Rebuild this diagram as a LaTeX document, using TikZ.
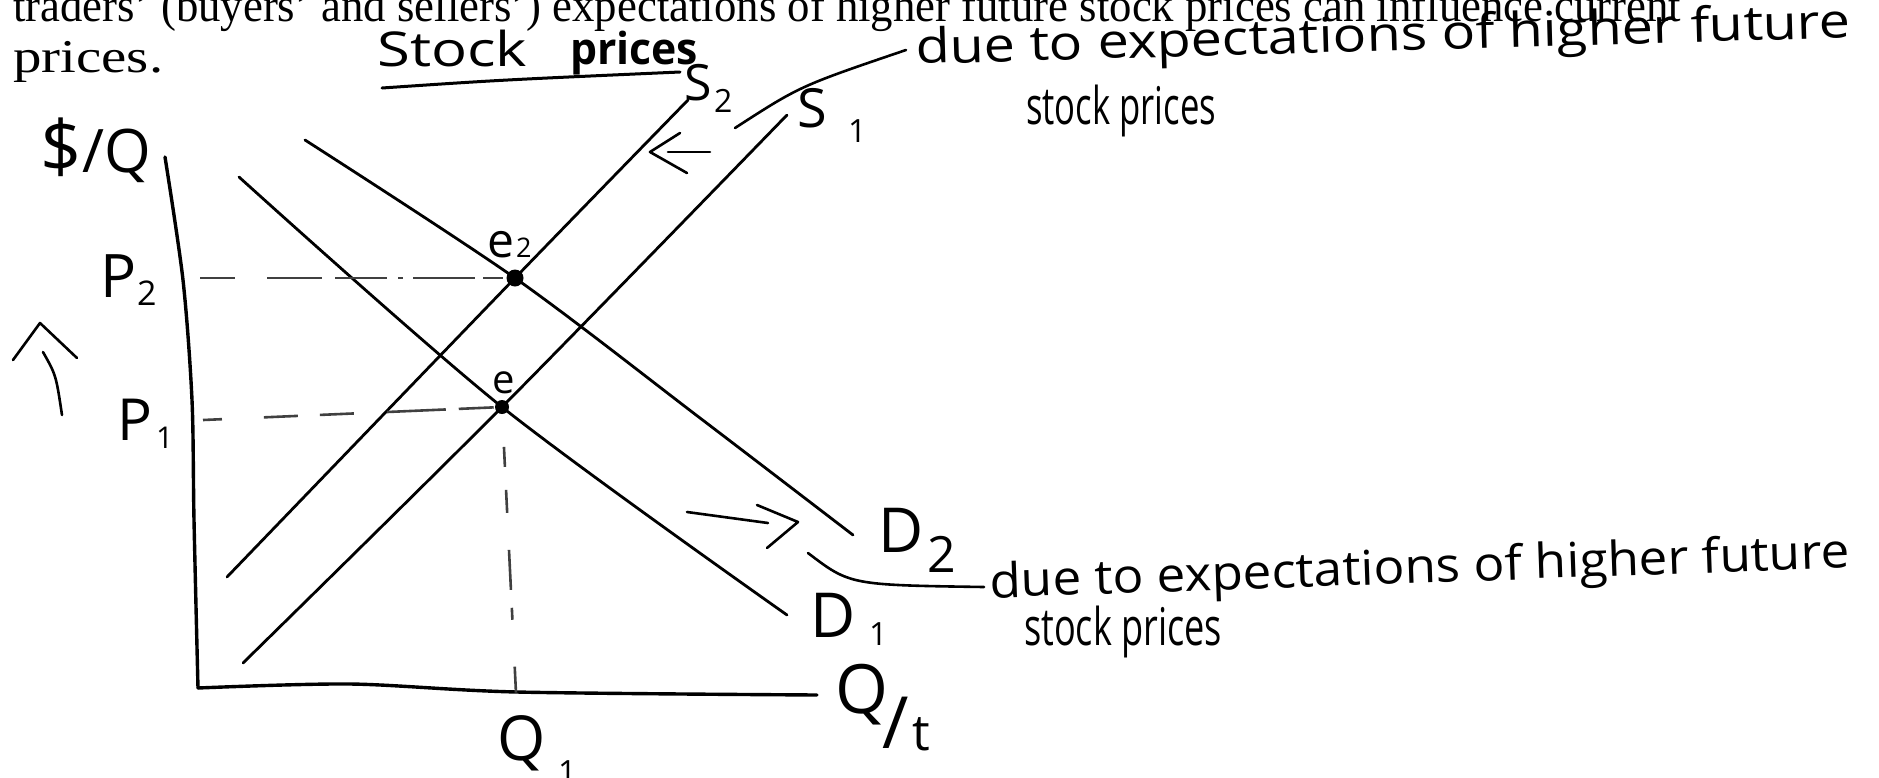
\documentclass[tikz,border=0pt]{standalone}
\usepackage{fontspec}
\usepackage{graphicx}
\setmainfont{Liberation Serif}
\newfontfamily\hand{Open Sans}
\newcommand\hs[1]{\hand\fontsize{#1}{#1}\selectfont}
\newcommand\fitw[2]{\resizebox{#1}{\height}{#2}}
\begin{document}
\begin{tikzpicture}[x=1pt,y=-1pt,
  curve/.style={line width=2.8pt,line cap=round},
  axisline/.style={line width=3.4pt,line cap=round,line join=round},
  guide/.style={line width=2.6pt,black!75},
  pen/.style={line width=2.6pt,line cap=round,line join=round},
  lbl/.style={inner sep=0pt,anchor=base west},
  dotmark/.style={circle,fill=black,inner sep=0pt,minimum size=#1},
]
\useasboundingbox (0,0) rectangle (1879,777);
\fill[white] (0,0) rectangle (1879,777);

% printed text
\node[lbl,font=\fontsize{47}{47}\selectfont] (txt1) at (13,21)
  {\fitw{1668pt}{traders’ (buyers’ and sellers’) expectations of higher future stock prices can influence current}};
\node[lbl,font=\fontsize{47}{47}\selectfont] (txt2) at (13,72) {\fitw{150pt}{prices.}};

% axes
\coordinate (Y1) at (165,157);
\coordinate (Y2) at (183,280);
\coordinate (Y3) at (192,400);
\coordinate (Y4) at (194,520);
\coordinate (O)  at (198,688);
\coordinate (X1) at (350,684);
\coordinate (X2) at (517,692);
\coordinate (X3) at (817,695);
\draw[axisline] plot[smooth] coordinates {(Y1) (Y2) (Y3) (Y4) (O)};
\draw[axisline] plot[smooth] coordinates {(O) (X1) (X2) (X3)};

% curves
\coordinate (D1a) at (239,177);
\coordinate (D1m) at (502,407);
\coordinate (D1b) at (787,615);
\coordinate (D2a) at (305,140);
\coordinate (D2m) at (515,278);
\coordinate (D2n) at (700,418);
\coordinate (D2b) at (853,535);
\coordinate (S1a) at (243,663);
\coordinate (S1b) at (787,115);
\coordinate (S2a) at (227,577);
\coordinate (S2b) at (688,100);
\draw[curve] plot[smooth] coordinates {(D1a) (D1m) (D1b)};
\draw[curve] plot[smooth] coordinates {(D2a) (D2m) (D2n) (D2b)};
\draw[curve] plot[smooth] coordinates {(S1a) (D1m) (S1b)};
\draw[curve] plot[smooth] coordinates {(S2a) (D2m) (S2b)};

% equilibria
\node[dotmark=17pt] (e2) at (515,278) {};
\node[dotmark=14pt] (e1) at (502,407) {};

% guide lines
\coordinate (P2a) at (200,278);
\coordinate (P1a) at (203,420);
\coordinate (Qa)  at (516,693);
\draw[guide,dash pattern=on 35pt off 32pt on 55pt off 13pt on 52pt off 11pt on 5pt off 10pt on 62pt off 8pt on 20pt off 60pt] (P2a) -- (e2.center);
\draw[guide,dash pattern=on 19pt off 42pt on 34pt off 22pt on 34pt off 33pt on 59pt off 13pt on 35pt off 60pt] (P1a) -- (e1.center);
\draw[guide,dash pattern=on 0pt off 40pt on 20pt off 23pt on 23pt off 37pt on 40pt off 18pt on 12pt off 47pt on 26pt off 100pt] (e1.center) -- (Qa);

% axis labels
\node[lbl,font=\hs{72}] (yld) at (40,172) {\$};
\node[lbl,font=\hs{60}] (yl) at (82,172) {/Q};
\node[lbl,font=\hs{68}] (xlQ) at (835,713) {Q};
\node[lbl,font=\hs{72}] (xls) at (882,748) {/};
\node[lbl,font=\hs{50}] (xlt) at (912,750) {t};
\node[lbl,font=\hs{60}] (p2) at (100,297) {P};
\node[lbl,font=\hs{34}] (p2s) at (137,305) {2};
\node[lbl,font=\hs{58}] (p1) at (117,440) {P};
\node[lbl,font=\hs{30}] (p1s) at (156,448) {1};
\node[lbl,font=\hs{62}] (q1) at (497,760) {Q};
\node[lbl,font=\hs{32}] (q1s) at (558,783) {1};

% curve labels
\node[lbl,font=\hs{50}] (s2) at (684,100) {S};
\node[lbl,font=\hs{32}] (s2s) at (714,112) {2};
\node[lbl,font=\hs{54}] (s1) at (797,127) {S};
\node[lbl,font=\hs{32}] (s1s) at (848,142) {1};
\node[lbl,font=\hs{62}] (d2) at (878,552) {D};
\node[lbl,font=\hs{50}] (d2s) at (927,572) {2};
\node[lbl,font=\hs{62}] (d1) at (810,637) {D};
\node[lbl,font=\hs{32}] (d1s) at (869,645) {1};
\node[lbl,font=\hs{48}] (e2l) at (487,257) {e};
\node[lbl,font=\hs{27}] (e2s) at (516,257) {2};
\node[lbl,font=\hs{40}] (e1l) at (492,393) {e};

% handwritten title
\node[lbl,font=\hs{48}] (stk) at (377,66) {\fitw{150pt}{Stock}};
\node[lbl,font=\hs{44}\bfseries] (prc) at (570,64) {\fitw{128pt}{prices}};
\coordinate (U1) at (382,88);
\coordinate (U2) at (680,72);
\draw[pen,line width=3pt] (U1) .. controls (500,80) .. (U2);

% shift arrows
\coordinate (LAs) at (710,152);
\coordinate (LAv) at (650,152);
\draw[pen] (LAs) -- (668,152);
\draw[pen] (680,133) -- (LAv) -- (687,173);
\coordinate (RAs) at (687,512);
\coordinate (RAv) at (798,522);
\draw[pen] (RAs) -- (768,523);
\draw[pen] (757,505) -- (RAv) -- (767,548);
\coordinate (UAv) at (40,323);
\coordinate (UAs) at (62,415);
\draw[pen] (13,360) -- (UAv) -- (77,358);
\draw[pen] (43,352) .. controls (56,375) .. (UAs);

% annotations
\node[lbl,font=\hs{48},rotate=1.6] (ann1) at (916,64) {\fitw{935pt}{due to expectations of higher future}};
\node[lbl,font=\hs{52}] (ann1b) at (1026,124) {\fitw{190pt}{stock prices}};
\coordinate (L1a) at (735,128);
\coordinate (L1b) at (906,50);
\draw[pen] (L1a) .. controls (800,86) .. (L1b);

\node[lbl,font=\hs{48},rotate=2] (ann2) at (990,598) {\fitw{860pt}{due to expectations of higher future}};
\node[lbl,font=\hs{52}] (ann2b) at (1024,645) {\fitw{198pt}{stock prices}};
\coordinate (L2a) at (808,553);
\coordinate (L2b) at (984,587);
\draw[pen] (L2a) .. controls (850,585) .. (L2b);
\end{tikzpicture}
\end{document}
